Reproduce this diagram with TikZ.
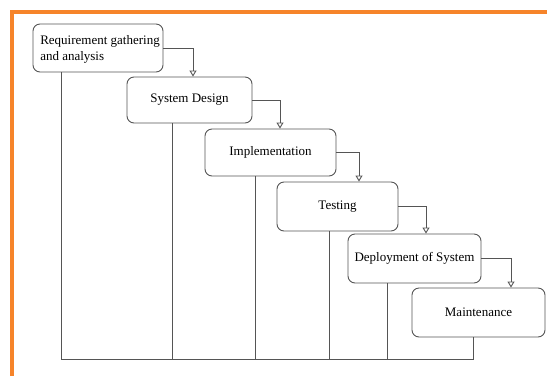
\documentclass[tikz,border=0pt]{standalone}
\usepackage{fontspec}
\setmainfont{Liberation Serif}
\usetikzlibrary{arrows.meta}
\definecolor{frameorange}{RGB}{246,132,42}
\definecolor{linegray}{RGB}{85,85,85}

\begin{document}
\begin{tikzpicture}[x=1pt,y=-1pt,->,>={Triangle[open,length=6pt,width=7pt]},
		thick,stage/.style={draw=linegray,line width=0.9pt,rounded corners=7pt,inner sep=0pt,
		minimum height=48pt,font=\fontsize{13}{16}\selectfont},
		flow/.style={draw=linegray,line width=0.9pt},
		drop/.style={draw=linegray,line width=0.9pt,-}]
		
		\useasboundingbox[fill=white] (0,0) rectangle (547,376);
		\draw[-,frameorange,line width=4pt] (12,376) -- (12,12) -- (547,12);
		
		\node[stage,minimum width=130pt,align=left,text depth=-5pt](req) at (98,48){\hspace*{4pt}Requirement gathering\\\hspace*{4pt}and analysis};
		\node[stage,minimum width=125pt,minimum height=46pt](design) at (189.5,100){System Design};
		\node[stage,minimum width=131pt,minimum height=47pt](impl) at (270.5,152.5){Implementation};
		\node[stage,minimum width=121pt,minimum height=49pt](test) at (337.5,206.5){Testing};
		\node[stage,minimum width=133pt,minimum height=49pt](deploy) at (414.5,258.5){Deployment of System};
		\node[stage,minimum width=133pt,minimum height=49pt](maint) at (478.5,312.5){Maintenance};
		
		% phase to phase
		\foreach \a/\b/\d in {req/design/3.5,design/impl/9.5,impl/test/21.5,test/deploy/11.5,deploy/maint/32.5}
		\draw[flow] (\a.east) -| ([xshift=\d pt]\b.north);
		
		\coordinate (baseL) at (61,359);
		\coordinate (baseR) at (473,359);
		\draw[drop] (req.south -| baseL) -- (baseL) -- (baseR) -- (maint.south -| baseR);
		\foreach \n/\x in {design/172,impl/255,test/329,deploy/387}
		\draw[drop] (\n.south -| \x,359) -- (\x,359);
		
	\end{tikzpicture}
\end{document}
